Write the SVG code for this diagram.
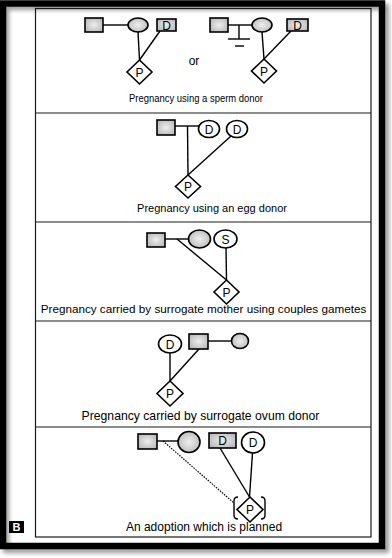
<svg xmlns="http://www.w3.org/2000/svg" width="392" height="558" viewBox="0 0 392 558">
<defs>
<radialGradient id="g" cx="50%" cy="50%" r="60%">
<stop offset="0" stop-color="#eeeeee"/>
<stop offset="1" stop-color="#b8b8b8"/>
</radialGradient>
<filter id="blur" x="-5%" y="-5%" width="110%" height="110%"><feGaussianBlur stdDeviation="2"/></filter>
</defs>
<style>
.frame{fill:none;stroke:#000;stroke-width:6.5}
.panel{fill:none;stroke:#1a1a1a;stroke-width:1.2}
.sym{stroke:#000;stroke-width:1.6}
.sh{fill:url(#g)}
.wh{fill:#fff}
.ln{stroke:#000;stroke-width:1.4;fill:none}
.dot{stroke:#000;stroke-width:1.2;fill:none;stroke-dasharray:1.5 1.2}
.cap{font-family:"Liberation Sans",Arial,sans-serif;text-anchor:middle;fill:#000}
.lbl{font-family:"Liberation Sans",Arial,sans-serif;font-size:12px;text-anchor:middle;fill:#000}
</style>
<rect width="392" height="558" fill="#fff"/>
<rect x="6" y="7" width="380" height="543" fill="none" stroke="#9a9a9a" stroke-width="6" filter="url(#blur)"/>
<rect class="frame" x="3" y="3.5" width="379" height="542.5"/>
<rect class="panel" x="35.5" y="8.5" width="335.5" height="528.5"/>
<g id="dividers">
<line class="panel" x1="35.5" y1="113" x2="371" y2="113"/>
<line class="panel" x1="35.5" y1="222" x2="371" y2="222"/>
<line class="panel" x1="35.5" y1="321" x2="371" y2="321"/>
<line class="panel" x1="35.5" y1="427" x2="371" y2="427"/>
</g>
<g id="connectors">
<line class="ln" x1="103" y1="25" x2="128" y2="25"/>
<line class="ln" x1="138" y1="32" x2="139.5" y2="60"/>
<line class="ln" x1="160" y1="31" x2="139.5" y2="60"/>
<line class="ln" x1="228" y1="25" x2="252" y2="25"/>
<line class="ln" x1="239" y1="25" x2="239" y2="39"/>
<line class="ln" x1="228" y1="39" x2="250" y2="39"/>
<line class="ln" x1="235" y1="46" x2="244" y2="46"/>
<line class="ln" x1="262" y1="32" x2="264" y2="59"/>
<line class="ln" x1="291" y1="31" x2="264" y2="59"/>
<line class="ln" x1="175" y1="126" x2="199" y2="126"/>
<line class="ln" x1="187.5" y1="126" x2="188" y2="175"/>
<line class="ln" x1="231" y1="136" x2="188" y2="175"/>
<line class="ln" x1="165" y1="239" x2="188.5" y2="239"/>
<line class="ln" x1="177" y1="239" x2="226.5" y2="280"/>
<line class="ln" x1="226" y1="248" x2="226.5" y2="280"/>
<line class="ln" x1="208" y1="341" x2="231.5" y2="341"/>
<line class="ln" x1="170" y1="353" x2="170" y2="381"/>
<line class="ln" x1="199" y1="349" x2="170" y2="381"/>
<line class="ln" x1="157" y1="441" x2="178" y2="441"/>
<line class="dot" x1="163" y1="441" x2="234" y2="503"/>
<line class="ln" x1="220" y1="448" x2="249.5" y2="497"/>
<line class="ln" x1="252.5" y1="453" x2="249.5" y2="497"/>
</g>
<g id="p1-male"><rect class="sym sh" x="85" y="18" width="18" height="14"/></g>
<g id="p1-female"><ellipse class="sym sh" cx="138" cy="25" rx="10" ry="7"/></g>
<g id="p1-donor"><rect class="sym sh" x="157" y="19" width="19" height="12"/><text class="lbl" x="166.5" y="29.5">D</text></g>
<g id="p1-preg"><polygon class="sym wh" points="139.5,60 152,72 139.5,84 127,72"/><text class="lbl" x="139.5" y="76.5">P</text></g>
<g id="p1-or"><text class="cap" x="194" y="65" font-size="12">or</text></g>
<g id="p1b-male"><rect class="sym sh" x="210" y="18" width="18" height="14"/></g>
<g id="p1b-female"><ellipse class="sym sh" cx="262" cy="25" rx="10" ry="7"/></g>
<g id="p1b-donor"><rect class="sym sh" x="287" y="19" width="21" height="12"/><text class="lbl" x="297.5" y="29.5">D</text></g>
<g id="p1b-preg"><polygon class="sym wh" points="264,59 276.5,71 264,83 251.5,71"/><text class="lbl" x="264" y="75.5">P</text></g>
<g id="cap1"><text class="cap" x="196" y="102" font-size="11" textLength="134" lengthAdjust="spacingAndGlyphs">Pregnancy using a sperm donor</text></g>
<g id="p2-male"><rect class="sym sh" x="157" y="120" width="18" height="15"/></g>
<g id="p2-donor1"><ellipse class="sym wh" cx="209" cy="129" rx="10.5" ry="8.5"/><text class="lbl" x="209" y="133.5">D</text></g>
<g id="p2-donor2"><ellipse class="sym wh" cx="237" cy="129" rx="10.5" ry="8.5"/><text class="lbl" x="237" y="133.5">D</text></g>
<g id="p2-preg"><polygon class="sym wh" points="188,175 200.5,186.5 188,198 175.5,186.5"/><text class="lbl" x="188" y="191">P</text></g>
<g id="cap2"><text class="cap" x="212" y="212" font-size="11">Pregnancy using an egg donor</text></g>
<g id="p3-male"><rect class="sym sh" x="147" y="233" width="18" height="14"/></g>
<g id="p3-female"><ellipse class="sym sh" cx="199.5" cy="239" rx="11" ry="9"/></g>
<g id="p3-surrogate"><ellipse class="sym wh" cx="225.5" cy="239" rx="11.5" ry="9"/><text class="lbl" x="225.5" y="243.5">S</text></g>
<g id="p3-preg"><polygon class="sym wh" points="226.5,280 239,292 226.5,304 214,292"/><text class="lbl" x="226.5" y="296.5">P</text></g>
<g id="cap3"><text class="cap" x="203.5" y="313" font-size="11.7">Pregnancy carried by surrogate mother using couples gametes</text></g>
<g id="p4-donor"><ellipse class="sym wh" cx="170" cy="344" rx="11.5" ry="9"/><text class="lbl" x="170" y="348.5">D</text></g>
<g id="p4-male"><rect class="sym sh" x="189" y="334" width="19" height="15"/></g>
<g id="p4-female"><ellipse class="sym sh" cx="240" cy="341" rx="8.5" ry="7.5"/></g>
<g id="p4-preg"><polygon class="sym wh" points="170,381 183,393.5 170,406 157,393.5"/><text class="lbl" x="170" y="398">P</text></g>
<g id="cap4"><text class="cap" x="200.5" y="420" font-size="12.2">Pregnancy carried by surrogate ovum donor</text></g>
<g id="p5-male"><rect class="sym sh" x="138" y="434" width="19" height="15"/></g>
<g id="p5-female"><ellipse class="sym sh" cx="189" cy="442" rx="11" ry="10.5"/></g>
<g id="p5-donor-m"><rect class="sym sh" x="209" y="433" width="27" height="15"/><text class="lbl" x="222.5" y="445">D</text></g>
<g id="p5-donor-f"><ellipse class="sym wh" cx="253" cy="442.5" rx="11.5" ry="10.5"/><text class="lbl" x="253" y="447">D</text></g>
<g id="p5-preg"><polygon class="sym wh" points="250,497 263,509.5 250,522 237,509.5"/><text class="lbl" x="250" y="514">P</text>
<path class="ln" d="M238,497 Q234,497 234,501 L234,515 Q234,519 238,519"/>
<path class="ln" d="M261,497 Q265,497 265,501 L265,515 Q265,519 261,519"/></g>
<g id="cap5"><text class="cap" x="204" y="531" font-size="12">An adoption which is planned</text></g>
<g id="label-b"><rect x="9" y="521" width="15" height="12" fill="#000"/><text x="16.5" y="531" font-family="Liberation Sans, Arial, sans-serif" font-size="11" font-weight="bold" fill="#fff" text-anchor="middle">B</text></g>
</svg>
